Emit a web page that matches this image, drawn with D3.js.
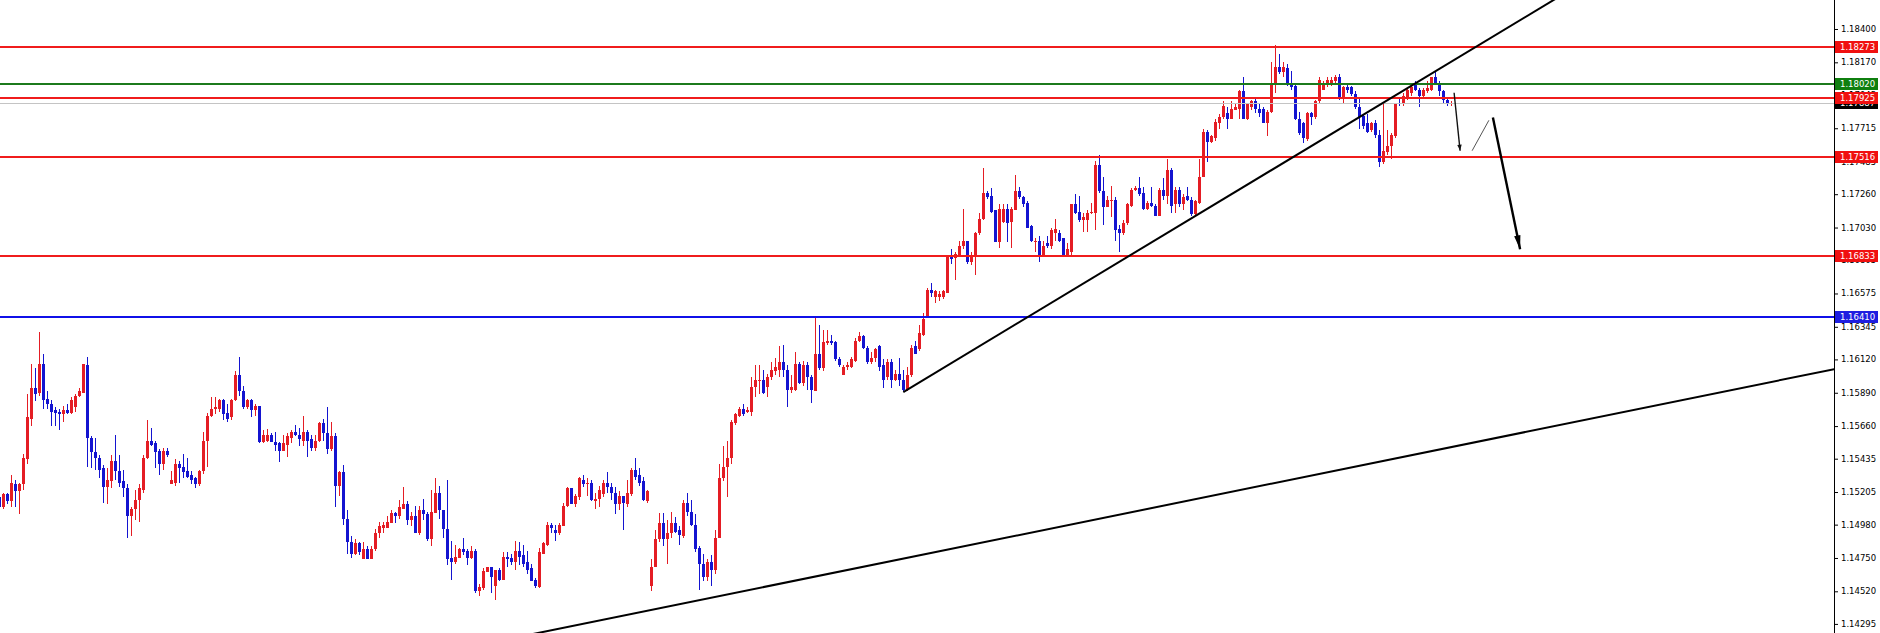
<!DOCTYPE html>
<html><head><meta charset="utf-8">
<script src="https://cdn.jsdelivr.net/npm/d3@7"></script>
<style>html,body{margin:0;padding:0;background:#fff;overflow:hidden}svg{display:block}</style>
</head><body>
<svg id="c" width="1880" height="633"></svg>
<script>
const opens=[
1.1517,1.1510,1.1519,1.1514,1.1526,1.1521,1.1526,1.1543,1.1571,1.1592,
1.1589,1.1609,1.1585,1.1581,1.1577,1.1576,1.1574,1.1577,1.1575,1.1579,
1.1587,1.1589,1.1608,1.1558,1.1548,1.1544,1.1537,1.1524,1.1528,1.1542,
1.1535,1.1528,1.1523,1.1504,1.1509,1.1515,1.1522,1.1544,1.1556,1.1554,
1.1549,1.1540,1.1549,1.1526,1.1527,1.1540,1.1538,1.1535,1.1532,1.1530,
1.1526,1.1535,1.1556,1.1573,1.1578,1.1578,1.1584,1.1575,1.1572,1.1584,
1.1601,1.1590,1.1579,1.1584,1.1577,1.1580,1.1555,1.1556,1.1560,1.1555,
1.1554,1.1549,1.1553,1.1558,1.1562,1.1560,1.1556,1.1562,1.1557,1.1551,
1.1556,1.1568,1.1561,1.1550,1.1559,1.1525,1.1534,1.1502,1.1486,1.1478,
1.1485,1.1474,1.1481,1.1474,1.1481,1.1492,1.1496,1.1496,1.1499,1.1506,
1.1504,1.1509,1.1512,1.1501,1.1504,1.1492,1.1508,1.1505,1.1488,1.1506,
1.1520,1.1508,1.1495,1.1475,1.1472,1.1475,1.1481,1.1480,1.1475,1.1480,
1.1452,1.1454,1.1465,1.1469,1.1456,1.1467,1.1460,1.1476,1.1475,1.1472,
1.1480,1.1477,1.1472,1.1468,1.1460,1.1455,1.1478,1.1484,1.1498,1.1494,
1.1492,1.1497,1.1511,1.1523,1.1512,1.1517,1.1529,1.1526,1.1527,1.1514,
1.1516,1.1519,1.1527,1.1524,1.1520,1.1512,1.1518,1.1512,1.1519,1.1536,
1.1532,1.1528,1.1514,1.1456,1.1469,1.1488,1.1499,1.1488,1.1492,1.1499,
1.1494,1.1490,1.1513,1.1507,1.1498,1.1482,1.1471,1.1462,1.1472,1.1467,
1.1489,1.1530,1.1538,1.1544,1.1568,1.1573,1.1578,1.1576,1.1576,1.1593,
1.1597,1.1598,1.1593,1.1600,1.1604,1.1605,1.1610,1.1605,1.1591,1.1591,
1.1609,1.1596,1.1608,1.1600,1.1590,1.1616,1.1606,1.1623,1.1625,1.1624,
1.1612,1.1601,1.1607,1.1607,1.1611,1.1625,1.1628,1.1620,1.1610,1.1613,
1.1621,1.1608,1.1600,1.1610,1.1598,1.1602,1.1598,1.1591,1.1601,1.1621,
1.1619,1.1629,1.1642,1.1660,1.1655,1.1655,1.1655,1.1658,1.1684,1.1682,
1.1684,1.1690,1.1694,1.1679,1.1683,1.1699,1.1709,1.1727,1.1725,1.1715,
1.1693,1.1707,1.1716,1.1707,1.1715,1.1728,1.1724,1.1720,1.1704,1.1693,
1.1694,1.1684,1.1692,1.1690,1.1699,1.1699,1.1696,1.1684,1.1686,1.1719,
1.1714,1.1708,1.1708,1.1713,1.1713,1.1746,1.1728,1.1717,1.1721,1.1722,
1.1702,1.1699,1.1706,1.1718,1.1729,1.1730,1.1727,1.1716,1.1720,1.1718,
1.1711,1.1729,1.1725,1.1743,1.1719,1.1729,1.1719,1.1725,1.1722,1.1712,
1.1720,1.1738,1.1769,1.1762,1.1765,1.1775,1.1779,1.1782,1.1778,1.1784,
1.1785,1.1797,1.1778,1.1786,1.1790,1.1785,1.1785,1.1775,1.1783,1.1802,
1.1814,1.1810,1.1813,1.1803,1.1801,1.1778,1.1775,1.1764,1.1782,1.1779,
1.1790,1.1798,1.1803,1.1803,1.1804,1.1807,1.1793,1.1800,1.1800,1.1795,
1.1786,1.1780,1.1775,1.1770,1.1775,1.1767,1.1748,1.1755,1.1759,1.1766,
1.1789,1.1788,1.1793,1.1796,1.1802,1.1798,1.1794,1.1797,1.1798,1.1807,
1.1803,1.1797,1.1791,1.1788];
const highs=[
1.1518,1.1520,1.1520,1.1532,1.1529,1.1527,1.1547,1.1588,1.1609,1.1606,
1.1631,1.1616,1.1590,1.1584,1.1579,1.1578,1.1580,1.1581,1.1586,1.1588,
1.1592,1.1609,1.1614,1.1559,1.1558,1.1546,1.1539,1.1537,1.1546,1.1560,
1.1546,1.1536,1.1526,1.1510,1.1522,1.1526,1.1546,1.1570,1.1565,1.1556,
1.1550,1.1551,1.1551,1.1535,1.1543,1.1542,1.1547,1.1544,1.1535,1.1531,
1.1536,1.1562,1.1575,1.1586,1.1586,1.1585,1.1585,1.1581,1.1585,1.1604,
1.1614,1.1594,1.1585,1.1585,1.1581,1.1580,1.1563,1.1564,1.1561,1.1562,
1.1555,1.1560,1.1561,1.1563,1.1567,1.1565,1.1573,1.1563,1.1560,1.1560,
1.1569,1.1571,1.1579,1.1569,1.1561,1.1535,1.1539,1.1508,1.1490,1.1488,
1.1486,1.1486,1.1483,1.1483,1.1495,1.1500,1.1500,1.1504,1.1508,1.1507,
1.1515,1.1524,1.1514,1.1507,1.1511,1.1511,1.1516,1.1507,1.1522,1.1530,
1.1525,1.1508,1.1529,1.1487,1.1484,1.1482,1.1489,1.1481,1.1483,1.1481,
1.1457,1.1468,1.1469,1.1469,1.1467,1.1468,1.1479,1.1479,1.1478,1.1487,
1.1486,1.1484,1.1480,1.1471,1.1461,1.1482,1.1486,1.1500,1.1499,1.1498,
1.1499,1.1513,1.1524,1.1523,1.1519,1.1531,1.1532,1.1530,1.1529,1.1520,
1.1525,1.1529,1.1534,1.1527,1.1524,1.1521,1.1518,1.1529,1.1537,1.1544,
1.1537,1.1531,1.1522,1.1474,1.1494,1.1506,1.1506,1.1501,1.1507,1.1503,
1.1497,1.1515,1.1520,1.1515,1.1505,1.1483,1.1478,1.1474,1.1477,1.1494,
1.1540,1.1552,1.1556,1.1570,1.1575,1.1579,1.1581,1.1579,1.1600,1.1608,
1.1608,1.1605,1.1602,1.1610,1.1613,1.1621,1.1622,1.1608,1.1601,1.1617,
1.1610,1.1611,1.1610,1.1601,1.1641,1.1636,1.1632,1.1632,1.1629,1.1625,
1.1614,1.1608,1.1610,1.1614,1.1627,1.1631,1.1629,1.1621,1.1617,1.1620,
1.1622,1.1612,1.1612,1.1612,1.1605,1.1613,1.1605,1.1607,1.1622,1.1625,
1.1636,1.1644,1.1661,1.1665,1.1660,1.1659,1.1660,1.1684,1.1688,1.1686,
1.1694,1.1716,1.1694,1.1686,1.1700,1.1713,1.1744,1.1728,1.1730,1.1715,
1.1719,1.1719,1.1719,1.1717,1.1739,1.1731,1.1725,1.1721,1.1705,1.1696,
1.1697,1.1694,1.1697,1.1703,1.1709,1.1701,1.1696,1.1692,1.1719,1.1726,
1.1725,1.1713,1.1715,1.1720,1.1749,1.1753,1.1738,1.1725,1.1732,1.1724,
1.1705,1.1708,1.1720,1.1730,1.1732,1.1738,1.1731,1.1721,1.1731,1.1719,
1.1730,1.1737,1.1750,1.1744,1.1731,1.1731,1.1726,1.1731,1.1724,1.1722,
1.1750,1.1771,1.1770,1.1767,1.1778,1.1781,1.1790,1.1786,1.1790,1.1788,
1.1798,1.1807,1.1789,1.1791,1.1792,1.1789,1.1786,1.1784,1.1817,1.1829,
1.1823,1.1817,1.1816,1.1811,1.1803,1.1783,1.1776,1.1783,1.1783,1.1791,
1.1807,1.1804,1.1807,1.1807,1.1808,1.1809,1.1801,1.1803,1.1801,1.1797,
1.1792,1.1781,1.1781,1.1776,1.1777,1.1770,1.1789,1.1770,1.1768,1.1789,
1.1792,1.1796,1.1799,1.1801,1.1804,1.1799,1.1799,1.1804,1.1807,1.1810,
1.1804,1.1798,1.1792,1.1790];
const lows=[
1.1510,1.1509,1.1512,1.1510,1.1510,1.1505,1.1522,1.1540,1.1566,1.1583,
1.1587,1.1578,1.1578,1.1566,1.1566,1.1563,1.1569,1.1574,1.1574,1.1576,
1.1586,1.1589,1.1538,1.1537,1.1536,1.1530,1.1513,1.1512,1.1523,1.1529,
1.1524,1.1517,1.1489,1.1490,1.1501,1.1500,1.1520,1.1543,1.1552,1.1537,
1.1532,1.1536,1.1545,1.1526,1.1525,1.1527,1.1530,1.1530,1.1526,1.1523,
1.1525,1.1533,1.1538,1.1572,1.1574,1.1576,1.1570,1.1569,1.1570,1.1583,
1.1587,1.1578,1.1578,1.1572,1.1573,1.1554,1.1554,1.1555,1.1555,1.1549,
1.1541,1.1549,1.1545,1.1554,1.1559,1.1552,1.1552,1.1545,1.1549,1.1549,
1.1555,1.1556,1.1547,1.1549,1.1510,1.1518,1.1498,1.1478,1.1475,1.1477,
1.1477,1.1474,1.1474,1.1474,1.1480,1.1489,1.1492,1.1496,1.1499,1.1499,
1.1502,1.1509,1.1498,1.1497,1.1492,1.1491,1.1501,1.1487,1.1483,1.1506,
1.1502,1.1489,1.1470,1.1460,1.1471,1.1475,1.1477,1.1470,1.1474,1.1451,
1.1449,1.1453,1.1465,1.1451,1.1446,1.1459,1.1460,1.1469,1.1470,1.1467,
1.1470,1.1469,1.1464,1.1459,1.1454,1.1454,1.1478,1.1483,1.1492,1.1487,
1.1491,1.1497,1.1510,1.1512,1.1510,1.1515,1.1524,1.1518,1.1514,1.1509,
1.1510,1.1517,1.1520,1.1515,1.1505,1.1508,1.1494,1.1510,1.1518,1.1529,
1.1525,1.1514,1.1513,1.1452,1.1469,1.1486,1.1483,1.1471,1.1489,1.1492,
1.1484,1.1489,1.1504,1.1497,1.1479,1.1453,1.1459,1.1459,1.1456,1.1464,
1.1489,1.1528,1.1517,1.1540,1.1567,1.1572,1.1573,1.1575,1.1573,1.1586,
1.1588,1.1588,1.1586,1.1598,1.1601,1.1600,1.1600,1.1579,1.1589,1.1590,
1.1595,1.1594,1.1591,1.1582,1.1590,1.1605,1.1604,1.1622,1.1622,1.1611,
1.1607,1.1601,1.1605,1.1606,1.1610,1.1624,1.1619,1.1609,1.1609,1.1610,
1.1604,1.1592,1.1598,1.1592,1.1597,1.1594,1.1590,1.1590,1.1600,1.1616,
1.1618,1.1628,1.1641,1.1655,1.1651,1.1652,1.1654,1.1658,1.1678,1.1667,
1.1683,1.1688,1.1678,1.1677,1.1670,1.1698,1.1708,1.1723,1.1713,1.1693,
1.1689,1.1706,1.1693,1.1689,1.1715,1.1723,1.1717,1.1703,1.1693,1.1686,
1.1679,1.1683,1.1689,1.1688,1.1694,1.1693,1.1683,1.1683,1.1683,1.1712,
1.1707,1.1700,1.1700,1.1712,1.1701,1.1727,1.1705,1.1717,1.1710,1.1694,
1.1686,1.1698,1.1705,1.1717,1.1728,1.1725,1.1715,1.1715,1.1717,1.1711,
1.1711,1.1722,1.1719,1.1713,1.1713,1.1717,1.1715,1.1721,1.1711,1.1711,
1.1719,1.1738,1.1748,1.1761,1.1763,1.1771,1.1778,1.1771,1.1778,1.1784,
1.1778,1.1778,1.1777,1.1784,1.1782,1.1779,1.1775,1.1766,1.1782,1.1796,
1.1809,1.1807,1.1801,1.1798,1.1777,1.1767,1.1761,1.1763,1.1774,1.1778,
1.1789,1.1798,1.1800,1.1801,1.1803,1.1791,1.1788,1.1796,1.1794,1.1785,
1.1771,1.1771,1.1768,1.1769,1.1765,1.1745,1.1747,1.1753,1.1750,1.1765,
1.1787,1.1787,1.1791,1.1794,1.1797,1.1786,1.1793,1.1796,1.1797,1.1803,
1.1794,1.1789,1.1787,1.1787];
const closes=[
1.1510,1.1519,1.1514,1.1527,1.1521,1.1526,1.1544,1.1572,1.1592,1.1588,
1.1609,1.1584,1.1581,1.1576,1.1575,1.1574,1.1577,1.1575,1.1584,1.1587,
1.1590,1.1609,1.1558,1.1548,1.1544,1.1536,1.1524,1.1529,1.1542,1.1535,
1.1527,1.1523,1.1504,1.1509,1.1515,1.1523,1.1544,1.1556,1.1553,1.1548,
1.1540,1.1549,1.1546,1.1529,1.1540,1.1537,1.1534,1.1531,1.1529,1.1526,
1.1535,1.1556,1.1573,1.1578,1.1579,1.1584,1.1574,1.1571,1.1584,1.1601,
1.1590,1.1579,1.1584,1.1577,1.1580,1.1555,1.1560,1.1560,1.1555,1.1553,
1.1549,1.1554,1.1559,1.1562,1.1560,1.1557,1.1562,1.1556,1.1551,1.1556,
1.1568,1.1561,1.1550,1.1559,1.1525,1.1534,1.1502,1.1486,1.1478,1.1485,
1.1479,1.1481,1.1474,1.1481,1.1492,1.1497,1.1498,1.1500,1.1506,1.1504,
1.1510,1.1512,1.1501,1.1504,1.1492,1.1508,1.1505,1.1488,1.1507,1.1520,
1.1508,1.1495,1.1474,1.1472,1.1476,1.1481,1.1479,1.1475,1.1480,1.1452,
1.1455,1.1466,1.1469,1.1462,1.1467,1.1460,1.1476,1.1474,1.1472,1.1480,
1.1476,1.1471,1.1467,1.1459,1.1456,1.1479,1.1485,1.1498,1.1496,1.1492,
1.1498,1.1511,1.1523,1.1512,1.1518,1.1530,1.1526,1.1527,1.1515,1.1516,
1.1522,1.1527,1.1524,1.1520,1.1512,1.1518,1.1513,1.1520,1.1536,1.1531,
1.1527,1.1515,1.1521,1.1469,1.1488,1.1499,1.1488,1.1492,1.1499,1.1493,
1.1491,1.1513,1.1507,1.1498,1.1481,1.1471,1.1462,1.1472,1.1467,1.1489,
1.1530,1.1538,1.1544,1.1569,1.1574,1.1578,1.1574,1.1577,1.1593,1.1598,
1.1598,1.1589,1.1600,1.1605,1.1607,1.1610,1.1605,1.1591,1.1593,1.1609,
1.1596,1.1608,1.1600,1.1591,1.1616,1.1606,1.1624,1.1625,1.1623,1.1612,
1.1608,1.1607,1.1608,1.1612,1.1625,1.1628,1.1620,1.1610,1.1613,1.1619,
1.1607,1.1598,1.1610,1.1598,1.1602,1.1598,1.1591,1.1601,1.1620,1.1616,
1.1630,1.1640,1.1660,1.1658,1.1659,1.1657,1.1659,1.1683,1.1681,1.1685,
1.1690,1.1694,1.1679,1.1684,1.1699,1.1709,1.1727,1.1724,1.1714,1.1693,
1.1716,1.1716,1.1706,1.1716,1.1728,1.1724,1.1719,1.1703,1.1694,1.1694,
1.1684,1.1690,1.1690,1.1701,1.1702,1.1694,1.1684,1.1688,1.1719,1.1713,
1.1708,1.1710,1.1713,1.1714,1.1746,1.1728,1.1717,1.1722,1.1722,1.1701,
1.1699,1.1706,1.1719,1.1729,1.1730,1.1726,1.1716,1.1720,1.1718,1.1711,
1.1729,1.1725,1.1743,1.1718,1.1729,1.1719,1.1724,1.1722,1.1712,1.1721,
1.1738,1.1769,1.1762,1.1766,1.1776,1.1779,1.1787,1.1778,1.1785,1.1786,
1.1797,1.1778,1.1788,1.1790,1.1785,1.1782,1.1775,1.1783,1.1803,1.1814,
1.1810,1.1814,1.1802,1.1800,1.1778,1.1768,1.1765,1.1782,1.1779,1.1790,
1.1805,1.1802,1.1805,1.1805,1.1807,1.1793,1.1800,1.1798,1.1795,1.1786,
1.1779,1.1773,1.1769,1.1775,1.1767,1.1748,1.1756,1.1759,1.1767,1.1789,
1.1788,1.1794,1.1798,1.1800,1.1798,1.1794,1.1798,1.1799,1.1807,1.1803,
1.1797,1.1791,1.1789,1.17887];

const tickValues=[1.18400,1.18170,1.17945,1.17715,1.17485,1.17260,1.17030,1.16805,1.16575,1.16345,1.16120,1.15890,1.15660,1.15435,1.15205,1.14980,1.14750,1.14520,1.14295];
const redLevels=[1.18273,1.17925,1.17516,1.16833];
const greenLevels=[1.18020];
const blueLevels=[1.16410];
const lastPrice=1.17887;
// drawn objects, as [bar index, price]
const trendUp=[[226,1.15895],[400,1.1879]];
const trendLow=[[120,1.1415],[460,1.1606]];
const arrowA=[[363.7,1.1796],[365.2,1.1756]];
const arrowB=[[368.2,1.1756],[372.4,1.1777]];
const arrowC=[[373.4,1.1779],[380.2,1.1688]];

const W=1880,H=633,axisX=1834;
const RED="#f01c1c",CRED="#e41d24",CBLUE="#1414d0";
const FONT="DejaVu Sans",FS="8.5px";
const x=d3.scaleLinear().domain([0,363]).range([-0.7,1451.3]);
const y=d3.scaleLinear().domain([1.186,1.142323]).range([0,H]);
const fmt=d3.format(".5f");
const svg=d3.select("#c");
svg.append("rect").attr("width",W).attr("height",H).attr("fill","#fff");
svg.append("defs").append("clipPath").attr("id","plot").append("rect").attr("x",0).attr("y",0).attr("width",axisX).attr("height",H);
const plot=svg.append("g").attr("clip-path","url(#plot)");

// candles
const bars=d3.range(opens.length).map(i=>({i,o:opens[i],h:highs[i],l:lows[i],c:closes[i]}));
const cg=plot.append("g").attr("shape-rendering","crispEdges");
bars.forEach(b=>{
  const cx=Math.round(x(b.i));
  const col=b.c>=b.o?CRED:CBLUE;
  const yh=Math.round(y(b.h)),yl=Math.round(y(b.l));
  cg.append("rect").attr("x",cx).attr("y",yh).attr("width",1).attr("height",Math.max(1,yl-yh)).attr("fill",col);
  const t=Math.round(y(Math.max(b.o,b.c))),bt=Math.round(y(Math.min(b.o,b.c)));
  cg.append("rect").attr("x",cx-1).attr("y",t).attr("width",3).attr("height",Math.max(1,bt-t)).attr("fill",col);
});

// horizontal levels
const hl=plot.append("g");
hl.append("line").attr("x1",0).attr("x2",axisX).attr("y1",Math.round(y(lastPrice))+0.5).attr("y2",Math.round(y(lastPrice))+0.5).attr("stroke","#c4c4c4").attr("stroke-width",1);
function level(p,col){hl.append("line").attr("x1",0).attr("x2",axisX).attr("y1",Math.round(y(p))).attr("y2",Math.round(y(p))).attr("stroke",col).attr("stroke-width",2);}
redLevels.forEach(p=>level(p,RED));
greenLevels.forEach(p=>level(p,"#1c7a1c"));
blueLevels.forEach(p=>level(p,"#1010e8"));

// trend lines
const line=d3.line().x(d=>x(d[0])).y(d=>y(d[1]));
plot.append("path").attr("d",line(trendUp)).attr("stroke","#000").attr("stroke-width",2).attr("fill","none");
plot.append("path").attr("d",line(trendLow)).attr("stroke","#000").attr("stroke-width",2).attr("fill","none");

// arrows
function arrow(pts,w,col,hl,hw){
  plot.append("path").attr("d",line(pts)).attr("stroke",col).attr("stroke-width",w).attr("fill","none");
  if(!hl) return;
  const x0=x(pts[0][0]),y0=y(pts[0][1]),x1=x(pts[1][0]),y1=y(pts[1][1]);
  const len=Math.hypot(x1-x0,y1-y0),dx=(x1-x0)/len,dy=(y1-y0)/len;
  const bx=x1-dx*hl,by=y1-dy*hl;
  plot.append("path").attr("d",`M${x1},${y1}L${bx-dy*hw},${by+dx*hw}L${bx+dy*hw},${by-dx*hw}Z`).attr("fill",col);
}
arrow(arrowA,1.4,"#111",6,2.2);
arrow(arrowB,1,"#555",0,0);
arrow(arrowC,2.4,"#000",14,3.2);

// axis line and ticks
const ax=svg.append("g").attr("transform",`translate(${axisX},0)`)
  .call(d3.axisRight(y).tickValues(tickValues).tickSize(4).tickSizeOuter(0).tickFormat(""));
ax.select(".domain").attr("stroke","#000").attr("d",`M0.5,0V${H}`);
ax.selectAll(".tick line").attr("stroke","#000");
// tick labels
svg.append("g").selectAll("text").data(tickValues).join("text")
  .attr("x",axisX+7).attr("y",d=>y(d)).attr("dy","0.35em")
  .attr("font-family",FONT).attr("font-size",FS).attr("fill","#000").text(d=>fmt(d));

// price labels
const lab=svg.append("g");
function tag(p,col){
  const yy=Math.round(y(p));
  lab.append("rect").attr("x",axisX+1).attr("y",yy-6).attr("width",43).attr("height",12).attr("fill",col);
  lab.append("text").attr("x",axisX+6).attr("y",yy).attr("dy","0.35em").attr("font-family",FONT).attr("font-size",FS).attr("fill","#fff").text(fmt(p));
}
tag(lastPrice,"#000");
redLevels.forEach(p=>tag(p,"#f01010"));
greenLevels.forEach(p=>tag(p,"#0f7f0f"));
blueLevels.forEach(p=>tag(p,"#1e1ee0"));
</script>
</body></html>
